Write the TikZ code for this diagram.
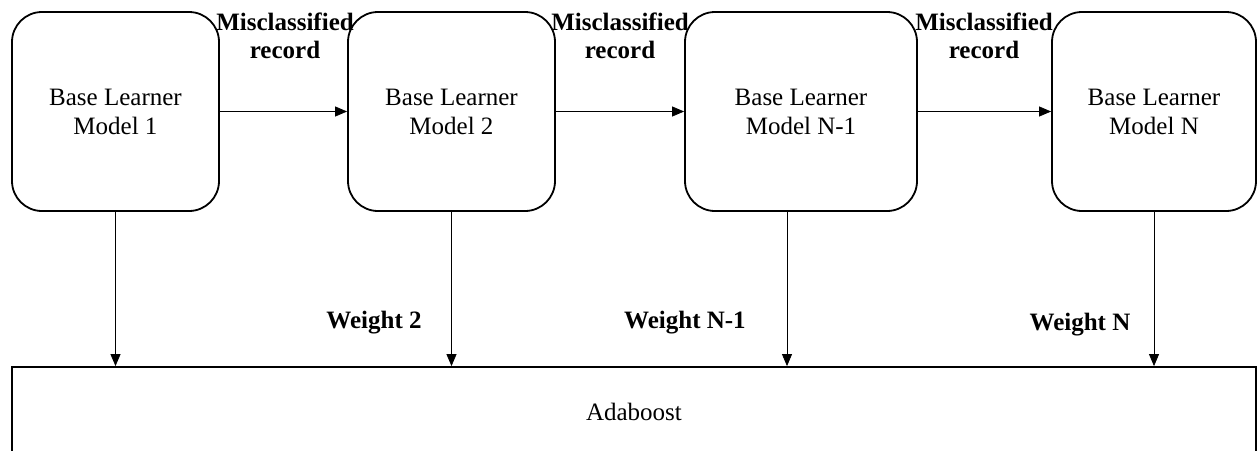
\documentclass[tikz,border=0pt]{standalone}
\usepackage{fontspec}
\setmainfont{Liberation Serif}
\usetikzlibrary{arrows.meta,calc}
\begin{document}
\begin{tikzpicture}[x=1pt,y=-1pt,
 learner/.style={draw, line width=1.8pt, rounded corners=30pt, minimum width=207pt, minimum height=199pt, align=center, font=\fontsize{25}{29}\selectfont, inner sep=0pt},
 lab/.style={font=\bfseries\fontsize{25}{28}\selectfont, align=center, inner sep=0pt},
 arr/.style={line width=0.8pt, -{Triangle[length=12pt,width=10pt]}},
]
\useasboundingbox (0,0) rectangle (1257,450);
\node[learner] (b1) at (115.5,111.5) {Base Learner\\Model 1};
\node[learner] (b2) at (451.5,111.5) {Base Learner\\Model 2};
\node[learner, minimum width=232pt] (b3) at (801,111.5) {Base Learner\\Model N-1};
\node[learner, minimum width=204pt] (b4) at (1154,111.5) {Base Learner\\Model N};
\node[draw, line width=1.8pt, minimum width=1244pt, minimum height=90pt, inner sep=0pt, font=\fontsize{25}{29}\selectfont] (ada) at (634,412) {Adaboost};

\node[lab] (m1) at (285,36) {Misclassified\\record};
\node[lab] (m2) at (620,36) {Misclassified\\record};
\node[lab] (m3) at (984,36) {Misclassified\\record};

\node[lab] (w2) at (374,323) {Weight 2};
\node[lab] (w3) at (685,323) {Weight N-1};
\node[lab] (w4) at (1080,325) {Weight N};

\draw[arr] (b1.east) -- (b2.west);
\draw[arr] (b2.east) -- (b3.west);
\draw[arr] (b3.east) -- (b4.west);

\draw[arr] (b1.south) -- (b1.south |- ada.north);
\draw[arr] (b2.south) -- (b2.south |- ada.north);
\coordinate (b3s) at ([xshift=-14pt]b3.south);
\draw[arr] (b3s) -- (b3s |- ada.north);
\draw[arr] (b4.south) -- (b4.south |- ada.north);
\end{tikzpicture}
\end{document}
